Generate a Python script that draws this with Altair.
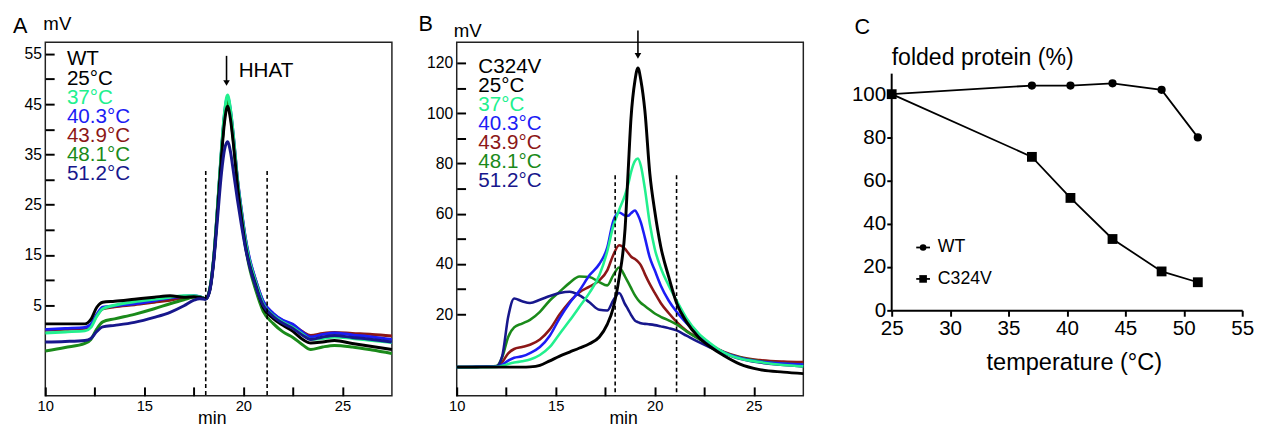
import altair as alt
import pandas as pd

FONT = "Liberation Sans"

# ---------------- data ----------------
temp_labels = ["25°C", "37°C", "40.3°C", "43.9°C", "48.1°C", "51.2°C"]
series_colors = ["#000000", "#22f08e", "#1c1cf5", "#8c1717", "#1a8a1a", "#17178c"]

# Panel A: WT chromatograms (time in min, signal in mV)
tA = [10, 11, 12.0, 12.3, 12.6, 12.9, 13.5, 14.5, 15.5, 16.3, 17.0, 17.5, 17.8,
      18.1, 18.3, 18.5, 18.7, 18.9, 19.05, 19.2, 19.35, 19.5, 19.7, 19.9, 20.1,
      20.3, 20.6, 21.0, 21.5, 22.0, 22.5, 23.0, 23.4, 24.0, 24.6, 25.5, 26.5, 27.5]
wt_25 = [1.3, 1.3, 1.3, 2.2, 4.6, 5.6, 5.8, 6.2, 6.6, 6.9, 6.6, 6.7, 6.6,
         6.3, 8.0, 14.0, 24.0, 35.0, 41.5, 44.6, 42.0, 37.0, 29.0, 22.5, 17.0,
         13.2, 9.3, 4.6, 2.4, 1.0, -0.2, -1.8, -2.5, -2.3, -2.0, -2.6, -3.2, -3.8]
wt_37 = [-0.5, -0.3, -0.1, 0.6, 2.8, 4.3, 5.0, 5.7, 6.2, 6.6, 6.9, 6.9, 6.7,
         6.3, 8.2, 14.5, 25.0, 36.5, 43.5, 46.8, 44.0, 38.5, 30.0, 23.5, 18.0,
         14.0, 9.9, 5.3, 3.0, 1.6, 0.6, -0.8, -1.8, -1.6, -1.3, -1.6, -2.0, -2.4]
wt_403 = [0.2, 0.4, 0.6, 1.2, 3.2, 4.6, 4.9, 5.3, 5.9, 6.5, 6.8, 6.9, 6.7,
          6.3, 8.1, 14.3, 24.8, 36.2, 43.2, 46.4, 43.8, 38.6, 30.3, 24.0, 18.5,
          14.5, 10.3, 5.8, 3.4, 2.0, 1.2, -0.4, -1.3, -0.8, -0.5, -0.9, -1.3, -1.8]
wt_439 = [0.0, 0.2, 0.4, 1.0, 3.0, 4.3, 4.7, 5.1, 5.6, 6.0, 6.5, 6.8, 6.6,
          6.3, 8.1, 14.2, 24.6, 35.8, 42.7, 45.8, 43.3, 38.2, 30.0, 23.8, 18.3,
          14.3, 10.2, 5.7, 3.3, 1.9, 1.1, -0.3, -1.0, -0.6, -0.4, -0.6, -0.8, -1.1]
wt_481 = [-4.1, -3.4, -2.6, -1.8, 0.3, 1.7, 2.3, 3.2, 4.3, 5.3, 6.1, 6.6, 6.6,
          6.3, 8.0, 14.0, 24.5, 35.8, 42.5, 45.5, 42.8, 37.5, 29.0, 22.3, 16.8,
          12.6, 8.3, 3.8, 1.4, -0.3, -1.4, -2.9, -3.8, -3.3, -3.0, -3.3, -3.9, -4.6]
wt_512 = [-2.3, -2.2, -2.0, -1.6, -0.2, 0.7, 1.0, 1.6, 2.6, 3.6, 4.9, 6.0, 6.3,
          6.2, 7.8, 13.5, 22.5, 31.5, 36.0, 37.5, 35.5, 31.5, 26.0, 21.0, 16.5,
          13.0, 9.0, 5.0, 2.8, 1.4, 0.4, -1.0, -1.8, -1.3, -1.0, -1.4, -1.8, -2.3]

# Panel B: C324V chromatograms
tB = [10, 11, 12.0, 12.3, 12.6, 12.9, 13.3, 13.7, 14.2, 14.7, 15.2, 15.7, 16.2,
      16.7, 17.2, 17.6, 17.9, 18.2, 18.5, 18.65, 18.8, 19.0, 19.15, 19.3, 19.5,
      19.75, 20.0, 20.3, 20.7, 21.1, 21.6, 22.2, 22.8, 23.5, 24.3, 25.3, 26.5, 27.5]
mut_25 = [-1.0, -1.0, -1.0, -1.0, -1.0, -1.0, -1.0, -0.9, -0.3, 1.5, 3.4, 5.0, 6.6,
          8.3, 11.0, 16.0, 22.5, 34.5, 54.0, 76.0, 98.0, 113.0, 118.0, 113.0, 101.0,
          76.0, 61.0, 47.0, 35.0, 24.5, 17.0, 11.0, 7.1, 3.5, 0.2, -2.0, -3.0, -3.6]
mut_37 = [-1.0, -1.0, -0.9, -0.5, 0.2, 0.8, 1.3, 2.0, 3.8, 7.0, 12.3, 17.5, 23.0,
          28.5, 35.5, 45.0, 55.0, 61.5, 67.5, 71.5, 76.5, 81.0, 82.0, 79.0, 70.0,
          56.0, 46.0, 38.5, 31.5, 25.5, 18.5, 12.5, 8.5, 4.8, 2.4, 1.0, -0.2, -0.7]
mut_403 = [-1.0, -0.9, -0.8, 0.0, 1.6, 2.7, 3.3, 4.6, 7.0, 11.5, 18.5, 24.5, 29.5,
           35.5, 40.0, 46.5, 57.0, 60.5, 59.3, 59.2, 60.2, 61.3, 59.5, 56.5, 50.5,
           42.5, 37.5, 31.5, 25.5, 21.0, 16.5, 12.0, 8.0, 4.8, 2.6, 1.2, 0.4, 0.0]
mut_439 = [-1.0, -0.9, -0.7, 1.0, 4.5, 6.2, 7.0, 7.9, 10.0, 14.0, 20.0, 25.0, 28.8,
           31.0, 33.5, 37.5, 43.5, 47.5, 46.0, 44.5, 43.0, 42.0, 41.0, 39.5, 36.0,
           32.0, 28.5, 24.5, 20.5, 17.0, 13.5, 10.5, 7.8, 5.0, 3.0, 1.8, 1.2, 1.0]
mut_481 = [-1.0, -0.9, -0.6, 3.0, 11.0, 14.8, 16.3, 17.8, 21.0, 25.5, 29.0, 32.5, 35.0,
           34.8, 32.8, 31.5, 35.5, 38.6, 35.0, 32.8, 30.5, 27.5, 25.8, 24.5, 23.3,
           21.8, 20.3, 19.0, 17.6, 16.0, 13.2, 10.3, 7.6, 4.8, 2.8, 1.3, 0.4, 0.0]
mut_512 = [-1.0, -0.9, -0.7, 3.5, 19.0, 26.3, 25.2, 24.5, 25.8, 27.3, 28.5, 29.0, 27.5,
           24.8, 21.8, 21.5, 25.5, 28.5, 24.0, 22.0, 19.8, 17.5, 16.9, 16.4, 16.2,
           16.0, 15.7, 15.2, 14.5, 13.6, 11.5, 9.0, 6.8, 4.5, 2.3, 0.8, -0.2, -0.7]

# Panel C: folded protein vs temperature
temps = [25, 37, 40.3, 43.9, 48.1, 51.2]
folded_wt = [100, 104, 104, 105, 102, 80]
folded_c324v = [100, 71, 52, 33, 18, 13]

# axis ticks / annotations
x_ticks = [10, 12.5, 15, 17.5, 20, 22.5, 25]
yA_ticks = [5, 10, 15, 20, 25, 30, 35, 40, 45, 50, 55]
yB_ticks = [20, 30, 40, 50, 60, 70, 80, 90, 100, 110, 120]
cx_ticks = [25, 30, 35, 40, 45, 50, 55]
cy_ticks = [0, 20, 40, 60, 80, 100]
c_axis_top = 109.5
dashA = [18.1, 21.2]
dashA_top = 31.7
dashB = [18.0, 21.1]
dashB_top = 75.3
arrowA = {"t": [19.15], "top": [54.6], "head": [49.2]}
arrowB = {"t": [19.15], "top": [132.9], "head": [122.8]}

DUMMY = pd.DataFrame({"k": [0]})


def label(text, x, y, size, color="black", align="left", baseline="alphabetic"):
    return alt.Chart(DUMMY).mark_text(
        text=text, fontSize=size, font=FONT, color=color, align=align, baseline=baseline
    ).encode(x=alt.value(x), y=alt.value(y))


def chrom_panel(t, series, order, ydom, yticks, ylab_expr, dash_t, dash_top, arrow,
                header, letter, legend_top, mv_pos, letter_pos, hhat, widths):
    W, H = 353, 360

    def ex(field):
        return alt.X(field, type="quantitative",
                     scale=alt.Scale(domain=[10, 27.5], nice=False, zero=False),
                     axis=alt.Axis(values=x_ticks,
                                   labelExpr="datum.value % 5 == 0 ? datum.label : ''",
                                   tickSize=9, tickWidth=2, tickColor="black", offset=-9,
                                   domain=False, grid=False, labelFontSize=15, labelFont=FONT,
                                   labelColor="black", labelPadding=3, labelFlush=False,
                                   labelOverlap=False, title=None))

    def ey(field):
        return alt.Y(field, type="quantitative",
                     scale=alt.Scale(domain=ydom, nice=False, zero=False),
                     axis=alt.Axis(values=yticks, labelExpr=ylab_expr,
                                   tickSize=9, tickWidth=2, tickColor="black", offset=-9,
                                   domain=False, grid=False, labelFontSize=16, labelFont=FONT,
                                   labelColor="black", labelPadding=4, labelFlush=False,
                                   labelOverlap=False, title=None))

    layers = []
    for idx in order:
        df = pd.DataFrame({"t": t, "v": series[idx]})
        layers.append(
            alt.Chart(df).mark_line(color=series_colors[idx], strokeWidth=widths[idx],
                                    interpolate="monotone")
            .encode(x=ex("t"), y=ey("v"))
        )
    ddf = pd.DataFrame({"t": dash_t, "top": [dash_top] * len(dash_t),
                        "bot": [ydom[0]] * len(dash_t)})
    layers.append(
        alt.Chart(ddf).mark_rule(color="black", strokeWidth=1.6, strokeDash=[4, 3])
        .encode(x=ex("t"), y=ey("top"), y2="bot:Q")
    )
    adf = pd.DataFrame(arrow)
    layers.append(
        alt.Chart(adf).mark_rule(color="black", strokeWidth=1.6)
        .encode(x=ex("t"), y=ey("top"), y2="head:Q")
    )
    layers.append(
        alt.Chart(adf).mark_point(shape="triangle-down", filled=True, size=45,
                                  color="black", opacity=1)
        .encode(x=ex("t"), y=ey("head"))
    )
    # legend block
    layers.append(label(header, 22, legend_top, 21, baseline="middle"))
    for i, (lab, col) in enumerate(zip(temp_labels, series_colors)):
        layers.append(label(lab, 22, legend_top + 20 + i * 19.3, 21, color=col,
                            baseline="middle"))
    if hhat:
        layers.append(label("HHAT", 197, 29.5, 21, baseline="middle"))
    layers.append(label("mV", mv_pos[0], mv_pos[1], 19))
    layers.append(label("min", 170, H + 29, 18, align="center"))
    layers.append(label(letter, letter_pos[0], letter_pos[1], 22))
    return alt.layer(*layers).properties(
        width=W, height=H,
        view=alt.ViewBackground(stroke="#222222", strokeWidth=1.5),
    )


panelA = chrom_panel(
    tA, [wt_25, wt_37, wt_403, wt_439, wt_481, wt_512], [3, 2, 4, 1, 0, 5],
    [-13.0, 57.3], yA_ticks, "datum.value % 10 == 5 ? datum.label : ''",
    dashA, dashA_top, arrowA, "WT", "A", 17.5, (-2, -13), (-33, -9), True,
    [3, 3, 3, 3, 3, 3],
)
panelB = chrom_panel(
    tB, [mut_25, mut_37, mut_403, mut_439, mut_481, mut_512], [3, 4, 5, 2, 1, 0],
    [-12.4, 128.2], yB_ticks, "datum.value % 20 == 0 ? datum.label : ''",
    dashB, dashB_top, arrowB, "C324V", "B", 25, (-3, -5), (-39, -11), False,
    [3, 2.6, 2.6, 2.6, 2.6, 2.6],
)

# ---------------- panel C ----------------
# plot area spans the same vertical band as panels A/B (top aligned); the
# visible y axis line stops at c_axis_top
CW, CH = 357, 273
C_YMAX = 124.0


def cx(field):
    return alt.X(field, type="quantitative",
                 scale=alt.Scale(domain=[25, 55], nice=False, zero=False),
                 axis=alt.Axis(values=cx_ticks, tickSize=6, tickWidth=2, tickColor="black",
                               domainWidth=2, domainColor="black", grid=False,
                               labelFontSize=21, labelFont=FONT, labelColor="black",
                               labelPadding=2, labelFlush=False, title=None))


def cy(field):
    return alt.Y(field, type="quantitative",
                 scale=alt.Scale(domain=[0, C_YMAX], nice=False, zero=False),
                 axis=alt.Axis(values=cy_ticks, tickSize=5, tickWidth=2, tickColor="black",
                               domain=False, grid=False,
                               labelFontSize=21, labelFont=FONT, labelColor="black",
                               labelPadding=1, labelFlush=False, title=None))


wt_df = pd.DataFrame({"temp": temps, "pct": folded_wt})
mut_df = pd.DataFrame({"temp": temps, "pct": folded_c324v})
yaxis_df = pd.DataFrame({"temp": [cx_ticks[0]], "lo": [0], "hi": [c_axis_top]})

c_layers = [
    alt.Chart(yaxis_df).mark_rule(color="black", strokeWidth=2)
    .encode(x=cx("temp"), y=cy("lo"), y2="hi:Q"),
    alt.Chart(wt_df).mark_line(color="black", strokeWidth=1.8).encode(x=cx("temp"), y=cy("pct")),
    alt.Chart(wt_df).mark_point(shape="circle", filled=True, size=70, color="black", opacity=1)
    .encode(x=cx("temp"), y=cy("pct")),
    alt.Chart(mut_df).mark_line(color="black", strokeWidth=1.8).encode(x=cx("temp"), y=cy("pct")),
    alt.Chart(mut_df).mark_point(shape="square", filled=True, size=100, color="black", opacity=1)
    .encode(x=cx("temp"), y=cy("pct")),
]
legend_items = [("WT", "circle", 45), ("C324V", "square", 60)]
for i, (name, shp, sz) in enumerate(legend_items):
    ly = 209 + i * 32
    c_layers.append(
        alt.Chart(DUMMY).mark_rule(color="black", strokeWidth=1.8)
        .encode(x=alt.value(25), x2=alt.value(39), y=alt.value(ly))
    )
    c_layers.append(
        alt.Chart(DUMMY).mark_point(shape=shp, filled=True, size=sz, color="black", opacity=1)
        .encode(x=alt.value(32), y=alt.value(ly))
    )
    c_layers.append(label(name, 47, ly, 18, baseline="middle"))
c_layers.append(label("folded protein (%)", 0, 23, 23.5))
c_layers.append(label("temperature (°C)", 186, CH + 61, 24, align="center"))
c_layers.append(label("C", -38, -8, 22))

panelC = alt.layer(*c_layers).properties(
    width=CW, height=CH, view=alt.ViewBackground(strokeOpacity=0)
)

chart = (
    alt.hconcat(alt.hconcat(panelA, panelB, spacing=19), panelC, spacing=41)
    .properties(padding={"left": 4, "top": 1, "right": 0, "bottom": 0})
    .configure(font=FONT)
)

chart.save("out.html", embed_options={"renderer": "svg", "actions": False})
